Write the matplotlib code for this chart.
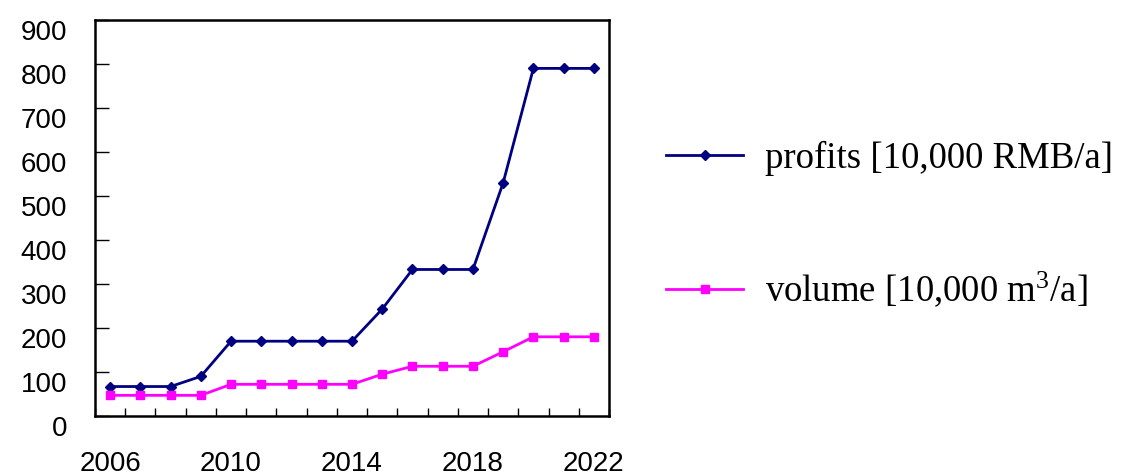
import numpy as np
import matplotlib
matplotlib.use('Agg')
import matplotlib.pyplot as plt

plt.rcParams['font.family'] = ['Liberation Sans', 'DejaVu Sans']
plt.rcParams['mathtext.fontset'] = 'custom'
plt.rcParams['mathtext.rm'] = 'Liberation Serif'
plt.rcParams['mathtext.it'] = 'Liberation Serif:italic'

years = list(range(2006, 2023))
profits = [67, 67, 67, 90, 170, 170, 170, 170, 170, 243, 333, 333, 333, 530, 790, 790, 790]
volume = [47, 47, 47, 47, 72, 72, 72, 72, 72, 95, 113, 113, 113, 146, 180, 180, 180]
year_labels = ['2006', '2010', '2014', '2018', '2022']
y_ticks = [0, 100, 200, 300, 400, 500, 600, 700, 800, 900]

fig = plt.figure(figsize=(11.24, 4.75), dpi=100)
ax = fig.add_axes([0.0845, 0.1242, 0.4573, 0.8337])

x = np.arange(len(years))
ax.plot(x, profits, color='#000080', lw=2, marker='D', ms=5,
        label='profits [10,000 RMB/a]')
ax.plot(x, volume, color='#FF00FF', lw=2, marker='s', ms=5.5,
        label='volume [10,000 m$^{3}$/a]')

ax.set_xlim(-0.5, len(years) - 0.5)
ax.set_ylim(0, 900)

# category axis: ticks between categories, labels every 4th year
ax.set_xticks(np.arange(-0.5, len(years), 1.0), minor=True)
ax.set_xticks([years.index(int(s)) for s in year_labels])
ax.set_xticklabels(year_labels)
ax.tick_params(axis='x', which='major', length=0, pad=25, labelsize=20)
ax.tick_params(axis='x', which='minor', direction='in', length=6, width=1)

ax.set_yticks(y_ticks)
ax.tick_params(axis='y', direction='in', length=10, width=1, pad=20, labelsize=20)
plt.setp(ax.get_yticklabels(), va='top')

for s in ax.spines.values():
    s.set_linewidth(1.8)

fig.legend(loc='upper left', bbox_to_anchor=(0.5925, 0.7035), frameon=False,
           prop={'family': 'Liberation Serif', 'size': 26.5},
           borderpad=0, borderaxespad=0,
           handlelength=2.1, handletextpad=0.6, labelspacing=2.55)

plt.savefig('out.png', dpi=100)
